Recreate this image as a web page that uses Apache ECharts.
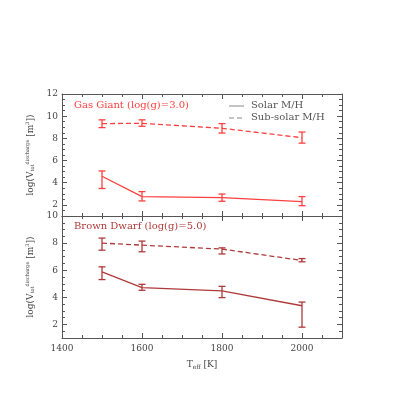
<!DOCTYPE html>
<html><head><meta charset="utf-8">
<script src="https://cdn.jsdelivr.net/npm/echarts@6/dist/echarts.min.js"></script>
<style>html,body{margin:0;padding:0;background:#fff}#c{width:399px;height:399px}</style>
</head><body><div id="c"></div>
<script>
const temps = [1500, 1600, 1800, 2000];
// Gas Giant (log(g)=3.0)
const gasSolar = [4.58, 2.75, 2.66, 2.3];
const gasSolarLow = [3.48, 2.36, 2.33, 1.93];
const gasSolarHigh = [5.06, 3.2, 2.98, 2.75];
const gasSub = [9.33, 9.36, 8.91, 8.06];
const gasSubLow = [8.97, 9.09, 8.48, 7.57];
const gasSubHigh = [9.67, 9.67, 9.33, 8.57];
// Brown Dwarf (log(g)=5.0)
const bdSolar = [5.88, 4.72, 4.47, 3.38];
const bdSolarLow = [5.31, 4.52, 3.98, 1.8];
const bdSolarHigh = [6.25, 4.96, 4.81, 3.65];
const bdSub = [8.0, 7.85, 7.56, 6.72];
const bdSubLow = [7.48, 7.36, 7.2, 6.62];
const bdSubHigh = [8.37, 8.15, 7.65, 6.86];
const xTickLabels = [1400, 1600, 1800, 2000];
const topYLabels = [2, 4, 6, 8, 10, 12];
const botYLabels = [2, 4, 6, 8, 10];

const RED = '#ff4040', DRED = '#b03a3a', AX = '#555';
const FONT = 'DejaVu Serif';

const chart = echarts.init(document.getElementById('c'), null, {renderer: 'canvas'});

function xAx(grid, pos, labels, name) {
  return {
    type: 'value', gridIndex: grid, position: pos, min: 1400, max: 2100, interval: 200,
    axisLine: {show: true, onZero: false, lineStyle: {color: AX, width: 1}},
    axisTick: {show: true, inside: true, length: 5, lineStyle: {color: AX}},
    minorTick: {show: true, splitNumber: 4, length: 3, lineStyle: {color: AX}},
    axisLabel: {show: labels, color: '#444', fontFamily: FONT, fontSize: 9, margin: 6,
      customValues: xTickLabels, formatter: v => String(v)},
    splitLine: {show: false}, minorSplitLine: {show: false},
    name: name || '', nameLocation: 'middle', nameGap: 22,
    nameTextStyle: {color: '#444', fontFamily: FONT, fontSize: 9,
      rich: {sub: {fontFamily: FONT, fontSize: 6, color: '#444', verticalAlign: 'bottom', padding: [4, 0, 0, 0]}}}
  };
}
function yMajor(grid, pos, max, labels, show) {
  return {
    type: 'value', gridIndex: grid, position: pos, min: 1, max: max,
    axisLine: {show: true, onZero: false, lineStyle: {color: AX}},
    axisTick: {show: true, inside: true, length: 5, lineStyle: {color: AX}, customValues: labels},
    axisLabel: {show: show, color: '#444', fontFamily: FONT, fontSize: 9, margin: 4, customValues: labels,
      formatter: v => String(v)},
    splitLine: {show: false},
    name: show ? '{n|log(V}{sub|tot}{sup|discharge}{n| [m}{sup|3}{n|])}' : '',
    nameLocation: 'middle', nameGap: 24, nameRotate: 90,
    nameTextStyle: {rich: {
      n: {fontFamily: FONT, fontSize: 9, color: '#444'},
      sub: {fontFamily: FONT, fontSize: 5, color: '#444', verticalAlign: 'bottom', padding: [5, 0, 0, 0]},
      sup: {fontFamily: FONT, fontSize: 5, color: '#444', verticalAlign: 'top', padding: [0, 0, 5, 0]}
    }}
  };
}
function yMinor(grid, pos, max) {
  return {
    type: 'value', gridIndex: grid, position: pos, min: 1, max: max, interval: 0.5,
    axisLine: {show: false}, axisTick: {show: true, inside: true, length: 3, lineStyle: {color: AX}},
    axisLabel: {show: false}, splitLine: {show: false}
  };
}

function errSeries(xi, yi, lows, highs, color) {
  const data = temps.map((t, i) => [t, lows[i], highs[i]]);
  return {
    type: 'custom', xAxisIndex: xi, yAxisIndex: yi, data: data, z: 5,
    renderItem: function (params, api) {
      const lo = api.coord([api.value(0), api.value(1)]);
      const hi = api.coord([api.value(0), api.value(2)]);
      const w = 3.5;
      const st = {stroke: color, lineWidth: 1.3};
      return {type: 'group', children: [
        {type: 'line', shape: {x1: lo[0], y1: lo[1], x2: hi[0], y2: hi[1]}, style: st},
        {type: 'line', shape: {x1: lo[0] - w, y1: lo[1], x2: lo[0] + w, y2: lo[1]}, style: st},
        {type: 'line', shape: {x1: hi[0] - w, y1: hi[1], x2: hi[0] + w, y2: hi[1]}, style: st}
      ]};
    }
  };
}
function lineSeries(xi, yi, vals, color, dashed) {
  return {
    type: 'line', xAxisIndex: xi, yAxisIndex: yi, data: temps.map((t, i) => [t, vals[i]]),
    symbol: 'none', lineStyle: {color: color, width: 1.3, type: dashed ? [5, 3] : 'solid'},
    animation: false, z: 4
  };
}

const option = {
  animation: false,
  grid: [
    {left: 62, right: 57, top: 94, height: 122, show: false},
    {left: 62, right: 57, top: 216, height: 122, show: false}
  ],
  xAxis: [
    xAx(0, 'bottom', false), xAx(0, 'top', false),
    xAx(1, 'bottom', true, 'T{sub|eff} [K]'), xAx(1, 'top', false)
  ],
  yAxis: [
    yMajor(0, 'left', 12, topYLabels, true), yMajor(0, 'right', 12, topYLabels, false),
    yMinor(0, 'left', 12), yMinor(0, 'right', 12),
    yMajor(1, 'left', 10, botYLabels, true), yMajor(1, 'right', 10, botYLabels, false),
    yMinor(1, 'left', 10), yMinor(1, 'right', 10)
  ],
  series: [
    lineSeries(0, 0, gasSub, RED, true),
    lineSeries(0, 0, gasSolar, RED, false),
    errSeries(0, 0, gasSubLow, gasSubHigh, RED),
    errSeries(0, 0, gasSolarLow, gasSolarHigh, RED),
    lineSeries(2, 4, bdSub, DRED, true),
    lineSeries(2, 4, bdSolar, DRED, false),
    errSeries(2, 4, bdSubLow, bdSubHigh, DRED),
    errSeries(2, 4, bdSolarLow, bdSolarHigh, DRED)
  ],
  graphic: [
    {type: 'text', left: 74, top: 100, style: {text: 'Gas Giant (log(g)=3.0)', fill: RED, font: '10px "DejaVu Serif"'}},
    {type: 'text', left: 74, top: 221, style: {text: 'Brown Dwarf (log(g)=5.0)', fill: DRED, font: '10px "DejaVu Serif"'}},
    {type: 'line', shape: {x1: 229, y1: 106, x2: 244, y2: 106}, style: {stroke: '#888', lineWidth: 1}},
    {type: 'line', shape: {x1: 229, y1: 118, x2: 244, y2: 118}, style: {stroke: '#888', lineWidth: 1, lineDash: [5, 3]}},
    {type: 'text', left: 251, top: 100, style: {text: 'Solar M/H', fill: '#555', font: '10px "DejaVu Serif"'}},
    {type: 'text', left: 251, top: 112, style: {text: 'Sub-solar M/H', fill: '#555', font: '10px "DejaVu Serif"'}}
  ]
};
chart.setOption(option);
</script></body></html>
